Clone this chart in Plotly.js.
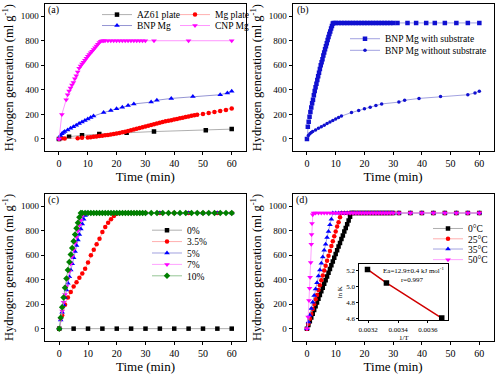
<!DOCTYPE html>
<html><head><meta charset="utf-8">
<script src="https://cdn.plot.ly/plotly-3.0.1.min.js"></script>
<style>html,body{margin:0;padding:0;background:#fff}#chart{width:496px;height:376px}</style>
</head><body><div id="chart"></div>
<script>
// ---------- Panel (a) ----------
const az61Time = [0, 3.5, 8, 14, 23.5, 33, 51, 60];
const az61H = [0, 18, 30, 40, 50, 60, 70, 80];
const mgTime = [0,1,2,6.5,8,10,11,12,13,14,15,16,17,18,19,20,21,22,23,24,25,26,27,28,29,30,31,32,33,34,35,36,37,38,39,40,41,42,43,44,45,46,47,48,50,52,54,56,58,60];
const mgH = [0,5,3,6,9,12,14,17,20,23,26,29,33,36,40,44,49,54,59,65,71,77,83,89,95,101,107,113,119,125,131,137,143,148,153,158,163,168,173,178,183,188,192,196,204,212,220,228,236,248];
const bnpTime = [0,0.5,1,1.5,2,3,4,5,6,7,8,9,10,11,12,15.5,18,20,22,24,26,32,34,39,46.5,56,58.5,60];
const bnpH = [0,28,42,52,60,72,86,100,112,125,138,150,162,175,186,215,232,245,258,272,285,300,315,330,345,360,375,388];
const cnpTime = [0,1,2.5,3,3.5,4,4.5,5,5.5,6,6.5,7,7.5,8,8.5,9,9.5,10,10.5,11,11.5,12,12.5,13,13.5,14,14.5,15,15.5,16,17,18,19,20,21,22,23,24,25,26,27,28,29,30,33,45,60];
const cnpH = [0,200,320,360,390,415,440,460,490,515,545,575,595,610,625,640,657,674,688,702,715,728,742,757,772,786,795,800,800,800,800,800,800,800,800,800,800,800,800,800,800,800,800,800,800,800,800];

// ---------- Panel (b) ----------
const bWithTime = [0,0.3,0.6,0.9,1.2,1.5,1.8,2.1,2.4,2.7,3,3.3,3.6,3.9,4.2,4.5,4.8,5.1,5.4,5.7,6,6.3,6.6,6.9,7.2,7.5,7.8,8.1,8.4,8.7,9,9.3,10,11,12,13,14,15,16,17,18,19,20,21,22,23,24,25,26,27,28,29,30,31.5,35,38,41.5,44.5,48,52,56,60];
const bWithH = [0,100,140,180,220,255,290,320,355,390,420,450,480,510,540,570,600,625,650,680,705,730,755,780,805,830,855,875,900,920,940,945,
945,945,945,945,945,945,945,945,945,945,945,945,945,945,945,945,945,945,945,945,945,945,945,945,945,945,945,945,945,945];
const bWithoutTime = [0,0.5,1,1.5,2,3,4,5,6,7,8,9,10,11,12,15.5,18,20,22,24,26,32,34,39,46.5,56,58.5,60];
const bWithoutH = [0,28,42,52,60,72,86,100,112,125,138,150,162,175,186,215,232,245,258,272,285,300,315,330,345,360,375,388];

// ---------- Panel (c) ----------
const c0Time = [0,5,10,15,20,25,30,35,40,45,50,55,60];
const c0H = [0,0,0,0,0,0,0,0,0,0,0,0,0];
const c35Time = [0,1,2,3,4,5,6,7,8,9,10,11,12,13,14,15,16,17,18,19,20,21,22,23,24,25,26,27,28,29,30,35,40,45,50,55,60];
const c35H = [0,110,195,255,300,345,380,415,450,490,540,600,645,690,735,790,830,865,895,920,940,945,
945,945,945,945,945,945,945,945,945,945,945,945,945,945,945];
const c5Time = [0,0.5,1,1.5,2,2.5,3,3.5,4,4.5,5,5.5,6,6.5,7,7.5,8,8.5,9,9.5,10,11,12,13,14,15,16,17,18,19,20,21,22,23,24,25,26,27,28,29,30,35,42,45,50,55,60];
const c5H = [0,70,135,195,255,315,370,425,480,530,580,630,680,725,770,815,855,895,925,945,
945,945,945,945,945,945,945,945,945,945,945,945,945,945,945,945,945,945,945,945,945,945,945,945,945,945,945];
const c7Time = [0,0.5,1,1.5,2,2.5,3,3.5,4,4.5,5,5.5,6,6.5,7,7.5,8,8.5,9,10,11,12,13,14,15,16,17,18,19,20,21,22,23,24,25,26,27,28,29,30,48,52,56,60];
const c7H = [0,75,145,215,280,345,410,470,530,590,645,700,750,800,845,885,920,940,945,
945,945,945,945,945,945,945,945,945,945,945,945,945,945,945,945,945,945,945,945,945,945,945,945,945];
const c10Time = [0,0.5,1,1.5,2,2.5,3,3.5,4,4.5,5,5.5,6,6.5,7,7.5,8,9,10,11,12,13,14,15,16,17,18,19,20,21,22,23,24,25,26,27,28,29,30,32,34,36,38,40,42,44,46,48,50,52,54,56,58,60];
const c10H = [0,90,175,255,335,410,480,545,605,660,715,770,820,865,910,945,
945,945,945,945,945,945,945,945,945,945,945,945,945,945,945,945,945,945,945,945,945,945,945,945,945,945,945,945,945,945,945,945,945,945,945,945,945,945];

// ---------- Panel (d) ----------
const d0Time = [0,0.5,1,1.5,2,2.5,3,3.5,4,4.5,5,5.5,6,6.5,7,7.5,8,8.5,9,9.5,10,10.5,11,11.5,12,12.5,13,13.5,14,14.5,15,15.5,16,17,18,19,20,21,22,23,24,25,26,27,28,29,30,32,36,40,44,48,52,56,60];
const d0H = [0,30,61,91,122,152,183,213,244,274,305,335,366,396,427,457,488,518,549,579,610,640,671,701,732,762,793,823,854,884,915,945,
945,945,945,945,945,945,945,945,945,945,945,945,945,945,945,945,945,945,945,945,945,945,945];
const d25Time = [0,0.5,1,1.5,2,2.5,3,3.5,4,4.5,5,5.5,6,6.5,7,7.5,8,8.5,9,9.5,10,10.5,11,11.5,12,13,14,15,16,17,18,19,20,21,22,23,24,25,26,27,28,29,30,32,36,40,44,48,52,56,60];
const d25H = [0,40,80,120,160,200,240,275,315,355,395,435,475,515,555,595,635,675,715,755,795,835,870,910,945,
945,945,945,945,945,945,945,945,945,945,945,945,945,945,945,945,945,945,945,945,945,945,945,945,945,945];
const d35Time = [0,0.5,1,1.5,2,2.5,3,3.5,4,4.5,5,5.5,6,6.5,7,7.5,8,8.5,9,10,11,12,13,14,15,16,17,18,19,20,21,22,23,24,25,26,27,28,29,30,32,36,40,44,48,52,56,60];
const d35H = [0,55,110,165,215,270,325,375,430,480,535,585,640,690,745,795,850,895,945,
945,945,945,945,945,945,945,945,945,945,945,945,945,945,945,945,945,945,945,945,945,945,945,945,945,945,945,945,945];
const d50Time = [0,0.4,0.7,0.9,1.1,1.3,1.5,1.6,1.75,2,2.3,3,4,5,6,7,8,9,10,11,12,13,14,15,16,17,18,19,20,21,22,23,24,25,26,27,28,29,30,32,36,40,44,48,52,56,60];
const d50H = [0,95,230,330,420,540,690,770,860,930,945,
945,945,945,945,945,945,945,945,945,945,945,945,945,945,945,945,945,945,945,945,945,945,945,945,945,945,945,945,945,945,945,945,945,945,945,945];

// ---------- Inset (d) ----------
const invT = [0.003195, 0.003322, 0.003693];
const lnK = [5.21, 5.04, 4.60];

const timeTicks = [0,10,20,30,40,50,60];
const hTicks = [0,200,400,600,800,1000];

const FONT = '"Liberation Serif", "Times New Roman", serif';
const W = 496, H = 376;

function tr(x, y, name, color, lineColor, symbol, size, ax, legend) {
  return {x, y, name, type:'scatter', mode:'lines+markers', xaxis:'x'+ax, yaxis:'y'+ax,
    legend, line:{color:lineColor, width:0.8},
    marker:{color, symbol, size, line:{width:0}}};
}

const traces = [
  tr(az61Time, az61H, 'AZ61 plate', '#000000', '#9a9a9a', 'square', 4.5, '', 'legend'),
  tr(mgTime, mgH, 'Mg plate', '#ff0000', '#ff9a9a', 'circle', 4.5, '', 'legend2'),
  tr(bnpTime, bnpH, 'BNP Mg', '#0000ff', '#7a7ac8', 'triangle-up', 5, '', 'legend3'),
  tr(cnpTime, cnpH, 'CNP Mg', '#ff00ff', '#ff7aff', 'triangle-down', 5, '', 'legend4'),

  tr(bWithTime, bWithH, 'BNP Mg with substrate', '#1010d0', '#8a8ad8', 'square', 4.5, '2', 'legend5'),
  tr(bWithoutTime, bWithoutH, 'BNP Mg without substrate', '#1010d0', '#8a8ad8', 'circle', 3.5, '2', 'legend6'),

  tr(c0Time, c0H, '0%', '#000000', '#9a9a9a', 'square', 4.5, '3', 'legend7'),
  tr(c35Time, c35H, '3.5%', '#ff0000', '#ff9a9a', 'circle', 4.5, '3', 'legend8'),
  tr(c5Time, c5H, '5%', '#0000ff', '#8a8ad8', 'triangle-up', 5, '3', 'legend9'),
  tr(c7Time, c7H, '7%', '#ff00ff', '#ff8aff', 'triangle-down', 5, '3', 'legend10'),
  tr(c10Time, c10H, '10%', '#008000', '#7ab87a', 'diamond', 5, '3', 'legend11'),

  tr(d0Time, d0H, '0°C', '#000000', '#9a9a9a', 'square', 4.5, '4', 'legend12'),
  tr(d25Time, d25H, '25°C', '#ff0000', '#ff9a9a', 'circle', 4.5, '4', 'legend13'),
  tr(d35Time, d35H, '35°C', '#0000ff', '#8a8ad8', 'triangle-up', 5, '4', 'legend14'),
  tr(d50Time, d50H, '50°C', '#ff00ff', '#ff8aff', 'triangle-down', 5, '4', 'legend15'),

  {x:invT, y:lnK, type:'scatter', mode:'lines', xaxis:'x5', yaxis:'y5', showlegend:false,
   line:{color:'#d00000', width:1.5}},
  {x:invT, y:lnK, type:'scatter', mode:'markers', xaxis:'x5', yaxis:'y5', showlegend:false,
   marker:{color:'#000000', symbol:'square', size:5.5, line:{width:0}}}
];

function xax(domain, anchor) {
  return {domain, anchor, range:[-5,65], tickvals:timeTicks, ticktext:timeTicks.map(String),
    ticks:'outside', ticklen:3, tickwidth:1, tickcolor:'#000',
    showline:true, mirror:true, linecolor:'#000', linewidth:1, showgrid:false, zeroline:false,
    tickfont:{family:FONT, size:10, color:'#000'},
    title:{text:'Time (min)', font:{family:FONT, size:13, color:'#000'}, standoff:3}};
}
function yax(domain, anchor) {
  return {domain, anchor, range:[-100,1100], tickvals:hTicks, ticktext:hTicks.map(String),
    ticks:'outside', ticklen:3, tickwidth:1, tickcolor:'#000',
    showline:true, mirror:true, linecolor:'#000', linewidth:1, showgrid:false, zeroline:false,
    tickfont:{family:FONT, size:9, color:'#000'},
    title:{text:'Hydrogen generation (ml g<sup>-1</sup>)', font:{family:FONT, size:12.5, color:'#000'}, standoff:4}};
}

const topDom = [1-149.4/H, 1-0.9/H];
const botDom = [1-340.6/H, 1-192.6/H];

function leg(px, py) {
  return {x:px/W, y:1-py/H, xanchor:'left', yanchor:'middle', bgcolor:'rgba(0,0,0,0)', borderwidth:0,
    font:{family:FONT, size:9.5, color:'#000'}, tracegroupgap:0, itemclick:false, itemdoubleclick:false};
}

const layout = {
  width:W, height:H, margin:{l:0, r:0, t:0, b:0}, paper_bgcolor:'#fff', plot_bgcolor:'rgba(0,0,0,0)',
  font:{family:FONT, size:10, color:'#000'},
  showlegend:true,
  xaxis: xax([44.6/W, 246.1/W], 'y'),
  yaxis: yax(topDom, 'x'),
  xaxis2: xax([292.6/W, 493.7/W], 'y2'),
  yaxis2: yax(topDom, 'x2'),
  xaxis3: xax([44.9/W, 246.1/W], 'y3'),
  yaxis3: yax(botDom, 'x3'),
  xaxis4: xax([292.6/W, 493.7/W], 'y4'),
  yaxis4: yax(botDom, 'x4'),
  xaxis5: {domain:[359.3/W, 448.3/W], anchor:'y5', range:[0.00314, 0.003737],
    tickvals:[0.0032,0.0034,0.0036], ticktext:['0.0032','0.0034','0.0036'],
    ticks:'outside', ticklen:2, tickcolor:'#000', showline:true, mirror:true, linecolor:'#000', linewidth:1,
    showgrid:false, zeroline:false, tickfont:{family:FONT, size:7, color:'#000'},
    title:{text:'1/T', font:{family:FONT, size:7, color:'#000'}, standoff:1}},
  yaxis5: {domain:[1-320/H, 1-263.3/H], anchor:'x5', range:[4.57, 5.275],
    tickvals:[4.6,4.8,5.0,5.2], ticktext:['4.6','4.8','5.0','5.2'],
    ticks:'outside', ticklen:2, tickcolor:'#000', showline:true, mirror:true, linecolor:'#000', linewidth:1,
    showgrid:false, zeroline:false, tickfont:{family:FONT, size:7, color:'#000'},
    title:{text:'ln K', font:{family:FONT, size:7, color:'#000'}, standoff:2}},
  legend: leg(97, 11.7), legend2: leg(175, 11.7), legend3: leg(97, 22.7), legend4: leg(175, 22.7),
  legend5: leg(345, 36), legend6: leg(345, 47.7),
  legend7: leg(147, 229), legend8: leg(147, 240.5), legend9: leg(147, 252), legend10: leg(147, 263.5), legend11: leg(147, 275),
  legend12: leg(428, 227.3), legend13: leg(428, 237.7), legend14: leg(428, 248), legend15: leg(428, 258.7),
  annotations: [
    {text:'(a)', xref:'paper', yref:'paper', x:46/W, y:1-7/H, xanchor:'left', yanchor:'middle', showarrow:false, font:{family:FONT, size:10, color:'#000'}},
    {text:'(b)', xref:'paper', yref:'paper', x:295/W, y:1-7/H, xanchor:'left', yanchor:'middle', showarrow:false, font:{family:FONT, size:10, color:'#000'}},
    {text:'(c)', xref:'paper', yref:'paper', x:46/W, y:1-199/H, xanchor:'left', yanchor:'middle', showarrow:false, font:{family:FONT, size:10, color:'#000'}},
    {text:'(d)', xref:'paper', yref:'paper', x:294/W, y:1-199/H, xanchor:'left', yanchor:'middle', showarrow:false, font:{family:FONT, size:10, color:'#000'}},
    {text:'Ea=12.9±0.4 kJ mol<sup>-1</sup>', xref:'paper', yref:'paper', x:413/W, y:1-269.3/H, xanchor:'center', yanchor:'middle', showarrow:false, font:{family:FONT, size:7, color:'#000'}},
    {text:'r=0.997', xref:'paper', yref:'paper', x:412/W, y:1-279.3/H, xanchor:'center', yanchor:'middle', showarrow:false, font:{family:FONT, size:7, color:'#000'}}
  ]
};

Plotly.newPlot('chart', traces, layout, {staticPlot:true, displayModeBar:false});
</script></body></html>
